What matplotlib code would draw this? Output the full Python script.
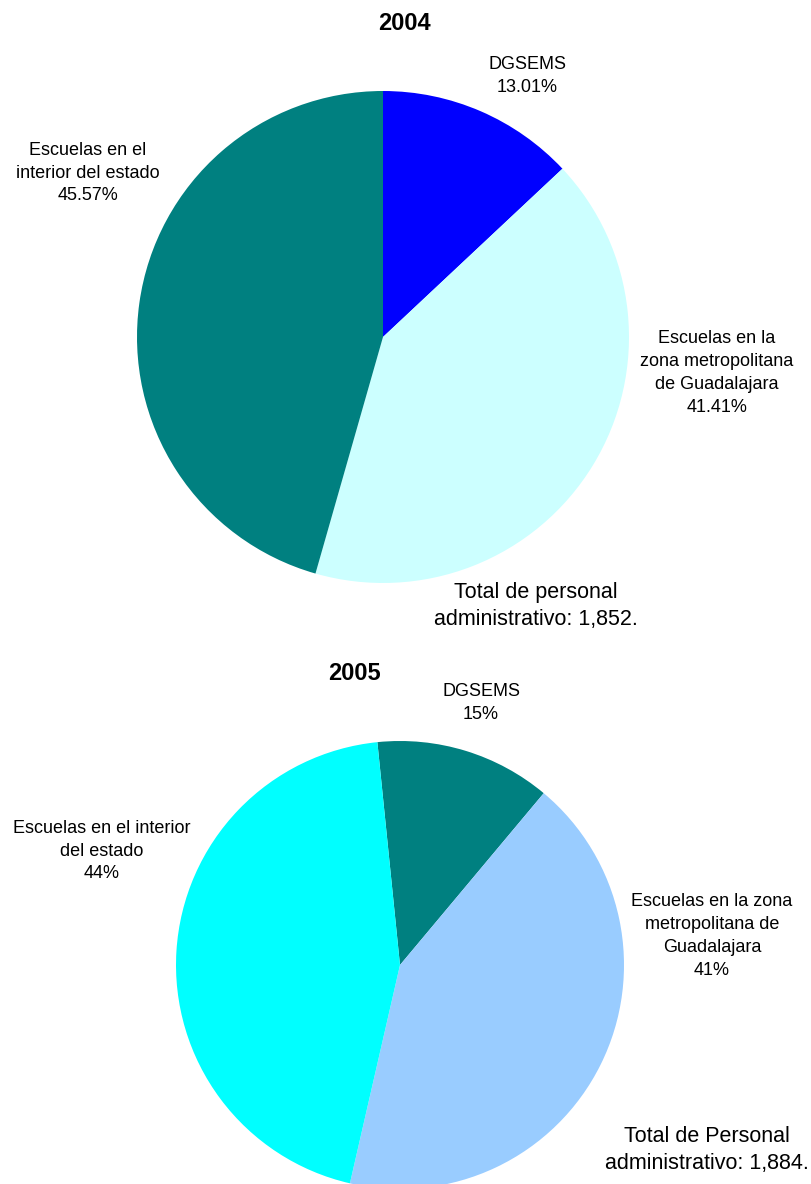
import matplotlib
matplotlib.use("Agg")
import matplotlib.pyplot as plt

# data
cats_2004 = ["DGSEMS", "Escuelas en la\nzona metropolitana\nde Guadalajara", "Escuelas en el\ninterior del estado"]
shares_2004 = [13.01, 41.41, 45.57]
pct_2004 = ["13.01%", "41.41%", "45.57%"]
total_2004 = 1852

cats_2005 = ["DGSEMS", "Escuelas en la zona\nmetropolitana de\nGuadalajara", "Escuelas en el interior\ndel estado"]
# slice sizes as drawn (the printed labels are rounded differently)
shares_2005 = [12.7, 42.5, 44.8]
pct_2005 = ["15%", "41%", "44%"]
total_2005 = 1884

colors_2004 = ["#0000FF", "#CCFFFF", "#008080"]
colors_2005 = ["#008080", "#99CCFF", "#00FFFF"]

W, H = 811, 1184
plt.rcParams['font.family'] = ['Liberation Sans', 'DejaVu Sans']

fig = plt.figure(figsize=(W / 100, H / 100), dpi=100)
ax = fig.add_axes([0, 0, 1, 1])


def Y(y):
    # pixel row -> data y (axis runs bottom-up)
    return H - y


ax.pie(shares_2004, colors=colors_2004, startangle=90, counterclock=False,
       center=(383, Y(337)), radius=246, wedgeprops=dict(linewidth=0))
ax.pie(shares_2005, colors=colors_2005, startangle=95.8, counterclock=False,
       center=(400, Y(965)), radius=224, wedgeprops=dict(linewidth=0))

ax.set_xlim(0, W)
ax.set_ylim(0, H)
ax.set_aspect('equal')
ax.axis('off')

small = dict(ha='center', va='center', fontsize=13, linespacing=1.45, color='#000000')
big = dict(ha='center', va='center', fontsize=15.5, linespacing=1.35, color='#000000')

# 2004 block
ax.text(404, Y(24), "2004", ha='center', va='center', fontsize=17, fontweight='bold')
pos_2004 = [(527, 76), (717, 373), (88, 173)]
for name, pct, (x, y) in zip(cats_2004, pct_2004, pos_2004):
    ax.text(x, Y(y), f"{name}\n{pct}", **small)
ax.text(536, Y(606), f"Total de personal\nadministrativo: {total_2004:,}.", **big)

# 2005 block
ax.text(354, Y(673), "2005", ha='center', va='center', fontsize=17, fontweight='bold')
pos_2005 = [(481, 703), (712, 936), (102, 851)]
for name, pct, (x, y) in zip(cats_2005, pct_2005, pos_2005):
    ax.text(x, Y(y), f"{name}\n{pct}", **small)
ax.text(707, Y(1150), f"Total de Personal\nadministrativo: {total_2005:,}.", **big)

fig.savefig("out.png", dpi=100)
